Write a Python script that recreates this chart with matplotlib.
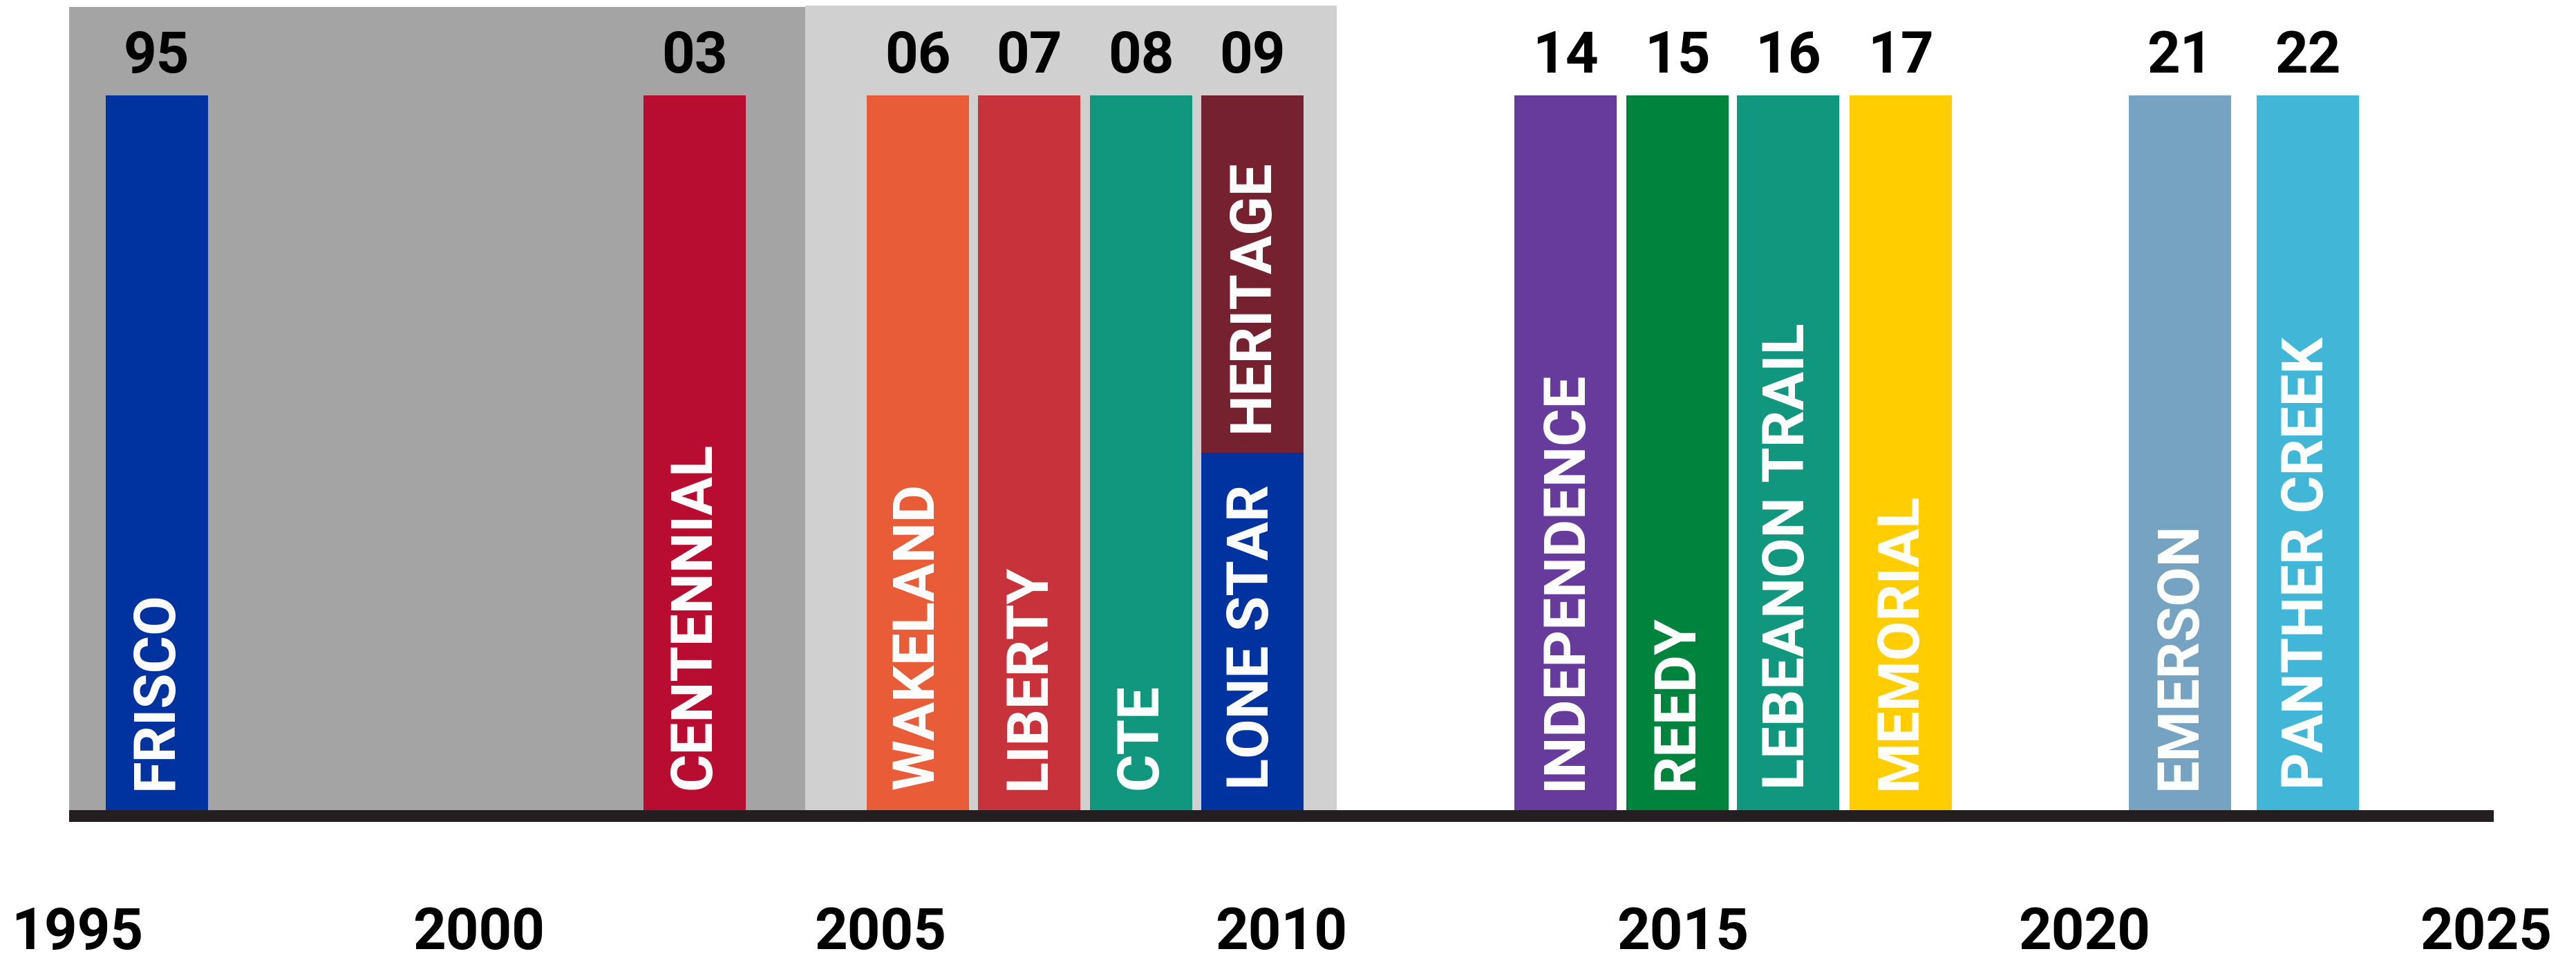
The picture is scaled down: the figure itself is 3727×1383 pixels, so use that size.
import matplotlib.pyplot as plt

plt.rcParams['font.family'] = ['Roboto', 'DejaVu Sans']
plt.rcParams['font.weight'] = 'bold'

# schools: opening year label, bar centre (in years), colour
open_labels = ['95', '03', '06', '07', '08', '09', '14', '15', '16', '17', '21', '22']
bar_x = [1995.99, 2002.69, 2005.47, 2006.86, 2008.25, 2009.64,
         2013.54, 2014.93, 2016.31, 2017.71, 2021.19, 2022.78]

# bar segments (Lone Star / Heritage share one bar)
seg_names = ['FRISCO', 'CENTENNIAL', 'WAKELAND', 'LIBERTY', 'CTE', 'LONE STAR', 'HERITAGE',
             'INDEPENDENCE', 'REEDY', 'LEBEANON TRAIL', 'MEMORIAL', 'EMERSON', 'PANTHER CREEK']
seg_x = [1995.99, 2002.69, 2005.47, 2006.86, 2008.25, 2009.64, 2009.64,
         2013.54, 2014.93, 2016.31, 2017.71, 2021.19, 2022.78]
seg_bottom = [0, 0, 0, 0, 0, 0, 0.5, 0, 0, 0, 0, 0, 0]
seg_height = [1, 1, 1, 1, 1, 0.5, 0.5, 1, 1, 1, 1, 1, 1]
seg_colors = ['#0033a0', '#b80c30', '#e85c38', '#c8323a', '#10977e', '#0033a0', '#76212f',
              '#663b9b', '#00843d', '#10977e', '#ffcd00', '#77a3c2', '#42b6d6']

# background eras
era_start = [1994.9, 2004.07]
era_end = [2004.07, 2010.69]
era_top = [1.1238, 1.1257]
era_colors = ['#a4a4a4', '#d0d0d0']

years = [1995, 2000, 2005, 2010, 2015, 2020, 2025]

fig = plt.figure(figsize=(37.27, 13.83), dpi=100)
ax = fig.add_axes([0.02683, 0.14027, 0.94127, 0.85973])

for s, e, t, c in zip(era_start, era_end, era_top, era_colors):
    ax.bar(s, t, width=e - s, align='edge', color=c, zorder=1, linewidth=0)

bar_w = 1.274
ax.bar(seg_x, seg_height, width=bar_w, bottom=seg_bottom, color=seg_colors,
       zorder=2, linewidth=0)

for name, x, b in zip(seg_names, seg_x, seg_bottom):
    ax.text(x, b + 0.029, name, rotation=90, ha='center', va='bottom',
            color='white', fontsize=60, fontweight='bold', zorder=4)

for lab, x in zip(open_labels, bar_x):
    ax.text(x, 1.032, lab, ha='center', va='baseline', color='black',
            fontsize=60, fontweight='bold', zorder=4)

# baseline
ax.axhspan(-0.01644, 0, color='#231f20', zorder=3, linewidth=0)

ax.set_xlim(1994.9, 2025.1)
ax.set_ylim(-0.01644, 1.1335)
ax.set_xticks(years)
ax.set_xticklabels([str(y) for y in years], fontsize=60, fontweight='bold')
ax.tick_params(axis='x', length=0, pad=88)
ax.set_yticks([])
for sp in ax.spines.values():
    sp.set_visible(False)

fig.savefig('out.png', dpi=100)
